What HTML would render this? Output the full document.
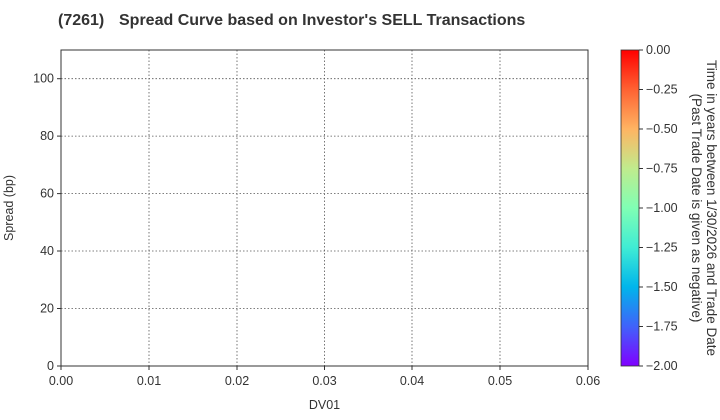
<!DOCTYPE html><html><head><style>body{margin:0;background:#fff}svg{display:block}text{font-family:"Liberation Sans",sans-serif;fill:#333}</style></head><body>
<svg width="720" height="420" xmlns="http://www.w3.org/2000/svg">
<defs><linearGradient id="g" x1="0" y1="1" x2="0" y2="0">
<stop offset="0" stop-color="#8000ff"/><stop offset="0.125" stop-color="#4062fa"/><stop offset="0.25" stop-color="#00b5eb"/><stop offset="0.375" stop-color="#40ecd4"/><stop offset="0.5" stop-color="#80ffb4"/><stop offset="0.625" stop-color="#c0eb8d"/><stop offset="0.75" stop-color="#ffb462"/><stop offset="0.875" stop-color="#ff6232"/><stop offset="1" stop-color="#ff0000"/></linearGradient></defs>
<text x="58" y="25" font-size="16" font-weight="bold">(7261)</text>
<text x="119" y="25" font-size="16" font-weight="bold">Spread Curve based on Investor's SELL Transactions</text>
<g stroke="#555" stroke-dasharray="1.5,2" stroke-width="0.8">
<line x1="149" y1="50" x2="149" y2="366"/><line x1="237" y1="50" x2="237" y2="366"/><line x1="324.5" y1="50" x2="324.5" y2="366"/><line x1="412" y1="50" x2="412" y2="366"/><line x1="500" y1="50" x2="500" y2="366"/>
<line x1="61" y1="308.5" x2="588" y2="308.5"/><line x1="61" y1="251" x2="588" y2="251"/><line x1="61" y1="193.6" x2="588" y2="193.6"/><line x1="61" y1="136.1" x2="588" y2="136.1"/><line x1="61" y1="78.7" x2="588" y2="78.7"/>
</g>
<rect x="61" y="50" width="527" height="316" fill="none" stroke="#333" stroke-width="1"/>
<g stroke="#333"><line x1="61" y1="366" x2="61" y2="370"/><line x1="149" y1="366" x2="149" y2="370"/><line x1="237" y1="366" x2="237" y2="370"/><line x1="324.5" y1="366" x2="324.5" y2="370"/><line x1="412" y1="366" x2="412" y2="370"/><line x1="500" y1="366" x2="500" y2="370"/><line x1="588" y1="366" x2="588" y2="370"/>
<line x1="57" y1="366" x2="61" y2="366"/><line x1="57" y1="308.5" x2="61" y2="308.5"/><line x1="57" y1="251" x2="61" y2="251"/><line x1="57" y1="193.6" x2="61" y2="193.6"/><line x1="57" y1="136.1" x2="61" y2="136.1"/><line x1="57" y1="78.7" x2="61" y2="78.7"/></g>
<g font-size="12.5" text-anchor="middle"><text x="61" y="385">0.00</text><text x="149" y="385">0.01</text><text x="237" y="385">0.02</text><text x="324.5" y="385">0.03</text><text x="412" y="385">0.04</text><text x="500" y="385">0.05</text><text x="588" y="385">0.06</text><text x="324.5" y="409">DV01</text></g>
<g font-size="12.5" text-anchor="end"><text x="54" y="370">0</text><text x="54" y="312.5">20</text><text x="54" y="255">40</text><text x="54" y="197.6">60</text><text x="54" y="140.1">80</text><text x="54" y="82.7">100</text></g>
<text transform="translate(13,208) rotate(-90)" font-size="12.5" text-anchor="middle">Spread (bp)</text>
<rect x="621" y="50" width="18" height="316" fill="url(#g)" stroke="#333" stroke-width="0.8"/>
<g stroke="#333"><line x1="639" y1="50" x2="643" y2="50"/><line x1="639" y1="89.5" x2="643" y2="89.5"/><line x1="639" y1="129" x2="643" y2="129"/><line x1="639" y1="168.5" x2="643" y2="168.5"/><line x1="639" y1="208" x2="643" y2="208"/><line x1="639" y1="247.5" x2="643" y2="247.5"/><line x1="639" y1="287" x2="643" y2="287"/><line x1="639" y1="326.5" x2="643" y2="326.5"/><line x1="639" y1="366" x2="643" y2="366"/></g>
<g font-size="12.5"><text x="646" y="54">0.00</text><text x="646" y="93.5">−0.25</text><text x="646" y="133">−0.50</text><text x="646" y="172.5">−0.75</text><text x="646" y="212">−1.00</text><text x="646" y="251.5">−1.25</text><text x="646" y="291">−1.50</text><text x="646" y="330.5">−1.75</text><text x="646" y="370">−2.00</text></g>
<g font-size="13.5" text-anchor="middle"><text transform="translate(707,208) rotate(90)">Time in years between 1/30/2026 and Trade Date</text><text transform="translate(692,208) rotate(90)">(Past Trade Date is given as negative)</text></g>
</svg></body></html>
